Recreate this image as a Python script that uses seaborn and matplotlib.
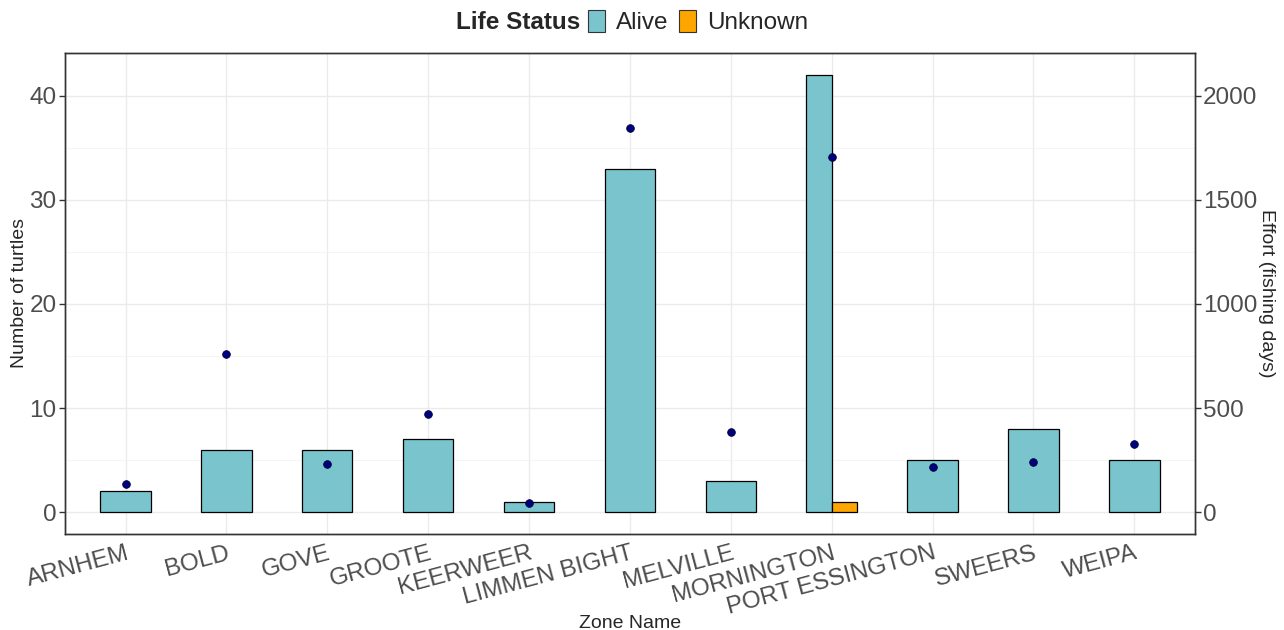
import pandas as pd
import numpy as np
import matplotlib
matplotlib.use("Agg")
import matplotlib.pyplot as plt
import seaborn as sns
from matplotlib.patches import Patch
from matplotlib.ticker import MultipleLocator

# ggplot theme_bw look
sns.set_style('white')
plt.rcParams.update({
    'font.family': ['Liberation Sans', 'DejaVu Sans'],
    'axes.edgecolor': '#333333',
    'axes.linewidth': 1.0,
    'xtick.color': '#333333',
    'ytick.color': '#333333',
    'xtick.labelcolor': '#4D4D4D',
    'ytick.labelcolor': '#4D4D4D',
})

# data
zones = ['ARNHEM', 'BOLD', 'GOVE', 'GROOTE', 'KEERWEER', 'LIMMEN BIGHT',
         'MELVILLE', 'MORNINGTON', 'PORT ESSINGTON', 'SWEERS', 'WEIPA']
alive = [2, 6, 6, 7, 1, 33, 3, 42, 5, 8, 5]
unknown_zone = 'MORNINGTON'
unknown_count = 1
effort = [133, 758, 230, 469, 45, 1843, 384, 1704, 216, 239, 328]
status_levels = ['Alive', 'Unknown']
status_colors = ['#7AC5CD', '#FFA500']
sec_scale = 50  # effort axis = turtles * 50

single = pd.DataFrame({'zone': zones, 'n': alive})
single = single[single['zone'] != unknown_zone]
split = pd.DataFrame({
    'zone': [unknown_zone, unknown_zone],
    'n': [alive[zones.index(unknown_zone)], unknown_count],
    'status': status_levels,
})
eff = pd.DataFrame({'zone': zones, 'effort': effort})

fig = plt.figure(figsize=(12.84, 6.3), dpi=100)
ax = fig.add_axes([0.0506, 0.1524, 0.88, 0.7635])

sns.barplot(data=single, x='zone', y='n', order=zones, color=status_colors[0],
            width=0.5, edgecolor='black', linewidth=0.9, saturation=1, ax=ax, zorder=2)
sns.barplot(data=split, x='zone', y='n', hue='status', order=zones,
            hue_order=status_levels, palette=status_colors, width=0.5, dodge=True,
            edgecolor='black', linewidth=0.9, saturation=1, legend=False, ax=ax, zorder=2)

ymax = max(alive)
ax.set_ylim(-0.05 * ymax, 1.05 * ymax)
ax.set_xlim(-0.6, len(zones) - 0.4)
ax.yaxis.set_major_locator(MultipleLocator(10))
ax.yaxis.set_minor_locator(MultipleLocator(5))
ax.set_axisbelow(True)
ax.grid(True, which='major', axis='both', color='#EBEBEB', linewidth=1.0)
ax.grid(True, which='minor', axis='y', color='#F2F2F2', linewidth=0.6)
ax.tick_params(axis='y', which='minor', length=0)
ax.tick_params(axis='both', which='major', length=4, width=1, labelsize=17.5, pad=2)
ax.set_xticks(range(len(zones)))
ax.set_xticklabels(zones, rotation=15, ha='right', rotation_mode='anchor')
ax.set_xlabel('Zone Name', fontsize=14)
ax.xaxis.set_label_coords(0.5, -0.168)
ax.set_ylabel('Number of turtles', fontsize=14, labelpad=1)

ax2 = ax.twinx()
sns.stripplot(data=eff, x='zone', y='effort', order=zones, jitter=False,
              color='#000080', size=5.5, edgecolor='#000033', linewidth=0.6, ax=ax2)
lo, hi = ax.get_ylim()
ax2.set_ylim(lo * sec_scale, hi * sec_scale)
ax2.set_xlim(-0.6, len(zones) - 0.4)
ax2.yaxis.set_major_locator(MultipleLocator(500))
ax2.tick_params(axis='y', length=4, width=1, labelsize=17.5, pad=2)
ax2.set_ylabel('Effort (fishing days)', fontsize=14, rotation=270, va='bottom', labelpad=0)
ax2.set_xlabel('')
for sp in ax2.spines.values():
    sp.set_color('#333333')

# legend on top: title to the left of the keys
fig.text(0.452, 0.965, 'Life Status', fontsize=17.5, fontweight='bold',
         ha='right', va='center')
handles = [Patch(facecolor=c, edgecolor='#333333', linewidth=0.8) for c in status_colors]
fig.legend(handles, status_levels, loc='center left', bbox_to_anchor=(0.456, 0.965),
           ncol=2, frameon=False, fontsize=17.5, handlelength=0.7, handleheight=1.05,
           handletextpad=0.45, columnspacing=0.45, borderpad=0.1, borderaxespad=0)

fig.savefig('out.png', dpi=100)
